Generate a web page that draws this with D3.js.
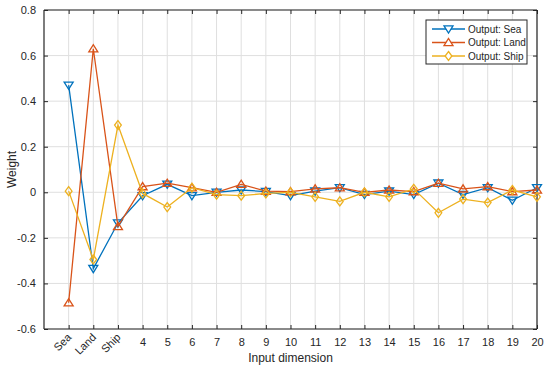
<!DOCTYPE html>
<html>
<head>
<meta charset="utf-8">
<script src="https://cdn.jsdelivr.net/npm/d3@7"></script>
<style>
  body { margin: 0; background: #fff; }
  text { font-family: "Liberation Sans", Arial, sans-serif; }
</style>
</head>
<body>
<div id="chart"></div>
<script>
// Data
const dims = d3.range(1, 21);
const xTickLabels = ["Sea", "Land", "Ship", "4", "5", "6", "7", "8", "9", "10",
                     "11", "12", "13", "14", "15", "16", "17", "18", "19", "20"];
const seaWeights  = [0.47, -0.335, -0.135, -0.015, 0.035, -0.015, 0.0, 0.01, 0.003, -0.015,
                     0.005, 0.02, -0.01, 0.005, -0.01, 0.04, -0.01, 0.02, -0.035, 0.02];
const landWeights = [-0.485, 0.63, -0.15, 0.025, 0.04, 0.02, 0.0, 0.035, 0.005, 0.003,
                     0.015, 0.02, 0.0, 0.01, 0.003, 0.04, 0.015, 0.025, 0.003, 0.01];
const shipWeights = [0.005, -0.295, 0.295, -0.005, -0.065, 0.02, -0.01, -0.015, -0.005, 0.0,
                     -0.02, -0.04, 0.0, -0.02, 0.015, -0.09, -0.03, -0.045, 0.01, -0.02];
const yTicks = [-0.6, -0.4, -0.2, 0, 0.2, 0.4, 0.6, 0.8];

const series = [
  {name: "Output: Sea",  values: seaWeights,  color: "#0072BD", marker: "down"},
  {name: "Output: Land", values: landWeights, color: "#D95319", marker: "up"},
  {name: "Output: Ship", values: shipWeights, color: "#EDB120", marker: "diamond"}
];

const W = 550, H = 370;
const margin = {top: 10, right: 13, bottom: 41, left: 44};
const width = W - margin.left - margin.right,
      height = H - margin.top - margin.bottom;

const svg = d3.select("#chart").append("svg")
  .attr("width", W).attr("height", H);
const g = svg.append("g")
  .attr("transform", `translate(${margin.left},${margin.top})`);

const x = d3.scaleLinear().domain([0, 20]).range([0, width]);
const y = d3.scaleLinear().domain([-0.6, 0.8]).range([height, 0]);

// grid
g.append("g").selectAll("line").data(dims).join("line")
  .attr("x1", d => x(d)).attr("x2", d => x(d))
  .attr("y1", 0).attr("y2", height)
  .attr("stroke", "#dfdfdf").attr("stroke-width", 1);
g.append("g").selectAll("line").data(yTicks).join("line")
  .attr("x1", 0).attr("x2", width)
  .attr("y1", d => y(d)).attr("y2", d => y(d))
  .attr("stroke", "#dfdfdf").attr("stroke-width", 1);

// axes (ticks point inward, box on)
const fmt = d => d === 0 ? "0" : d3.format(".1f")(d).replace("−", "-");
const axisColor = "#262626";

const yAxis = g.append("g")
  .call(d3.axisLeft(y).tickValues(yTicks).tickSize(-4).tickPadding(8).tickFormat(fmt));
const yAxisR = g.append("g").attr("transform", `translate(${width},0)`)
  .call(d3.axisRight(y).tickValues(yTicks).tickSize(-4).tickFormat(""));
const xAxis = g.append("g").attr("transform", `translate(0,${height})`)
  .call(d3.axisBottom(x).tickValues(dims).tickSize(-4).tickPadding(9)
        .tickFormat((d, i) => xTickLabels[i]));
const xAxisT = g.append("g")
  .call(d3.axisTop(x).tickValues(dims).tickSize(-4).tickFormat(""));

[yAxis, yAxisR, xAxis, xAxisT].forEach(a => {
  a.select(".domain").attr("stroke", axisColor).attr("stroke-width", 1.2);
  a.selectAll(".tick line").attr("stroke", axisColor);
  a.selectAll("text").attr("fill", axisColor)
   .style("font-family", "'Liberation Sans', Arial, sans-serif")
   .style("font-size", "11px");
});
yAxis.select(".domain").attr("d", `M0,0V${height}`);
yAxisR.select(".domain").attr("d", `M0,0V${height}`);
xAxis.select(".domain").attr("d", `M0,0H${width}`);
xAxisT.select(".domain").attr("d", `M0,0H${width}`);

// rotate first three category labels
xAxis.selectAll(".tick text")
  .filter((d, i) => i < 3)
  .attr("text-anchor", "end")
  .attr("dy", null)
  .attr("transform", "translate(3,9) rotate(-45)")
  .attr("y", 0).attr("x", 0);

// axis titles
svg.append("text")
  .attr("x", margin.left + width / 2).attr("y", H - 8)
  .attr("text-anchor", "middle").attr("fill", axisColor)
  .style("font-size", "12px").text("Input dimension");
svg.append("text")
  .attr("transform", `translate(16,${margin.top + height / 2}) rotate(-90)`)
  .attr("text-anchor", "middle").attr("fill", axisColor)
  .style("font-size", "12px").text("Weight");

// marker shapes
function markerPath(type, s) {
  if (type === "down") return `M${-s},${-s * 0.7}L${s},${-s * 0.7}L0,${s * 0.9}Z`;
  if (type === "up") return `M${-s},${s * 0.7}L${s},${s * 0.7}L0,${-s * 0.9}Z`;
  return `M0,${-s}L${s * 0.75},0L0,${s}L${-s * 0.75},0Z`;
}

const line = d3.line().x((d, i) => x(dims[i])).y(d => y(d));

series.forEach(s => {
  const sg = g.append("g");
  sg.append("path").datum(s.values)
    .attr("d", line).attr("fill", "none")
    .attr("stroke", s.color).attr("stroke-width", 1.3);
  sg.selectAll("path.mk").data(s.values).join("path")
    .attr("class", "mk")
    .attr("transform", (d, i) => `translate(${x(dims[i])},${y(d)})`)
    .attr("d", markerPath(s.marker, 4.5))
    .attr("fill", "none").attr("stroke", s.color).attr("stroke-width", 1.3);
});

// legend
const lg = svg.append("g").attr("transform", "translate(426,20)");
lg.append("rect").attr("width", 101).attr("height", 44)
  .attr("fill", "#fff").attr("stroke", axisColor).attr("stroke-width", 1);
series.forEach((s, i) => {
  const yy = 9 + i * 13.5;
  lg.append("line").attr("x1", 6).attr("x2", 39).attr("y1", yy).attr("y2", yy)
    .attr("stroke", s.color).attr("stroke-width", 1.3);
  lg.append("path").attr("transform", `translate(22.5,${yy})`)
    .attr("d", markerPath(s.marker, 4.5))
    .attr("fill", "#fff").attr("stroke", s.color).attr("stroke-width", 1.3);
  lg.append("text").attr("x", 42).attr("y", yy + 3.5)
    .attr("fill", axisColor).style("font-size", "10px").text(s.name);
});
</script>
</body>
</html>
